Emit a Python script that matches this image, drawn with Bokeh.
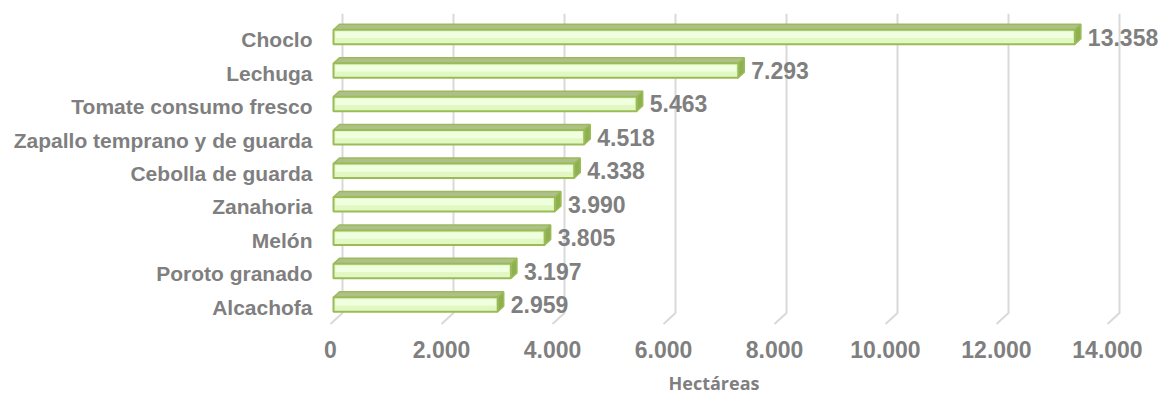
from bokeh.plotting import figure
from bokeh.models import Range1d, FixedTicker, ColumnDataSource, Title
from bokeh.core.properties import value
from bokeh.embed import file_html
from bokeh.resources import INLINE

# ---- data ----
categories = ["Alcachofa", "Poroto granado", "Melón", "Zanahoria", "Cebolla de guarda",
              "Zapallo temprano y de guarda", "Tomate consumo fresco", "Lechuga", "Choclo"]
hectares = [2959, 3197, 3805, 3990, 4338, 4518, 5463, 7293, 13358]
value_labels = ["2.959", "3.197", "3.805", "3.990", "4.338", "4.518", "5.463", "7.293", "13.358"]
x_ticks = [0, 2000, 4000, 6000, 8000, 10000, 12000, 14000]
x_tick_labels = ["0", "2.000", "4.000", "6.000", "8.000", "10.000", "12.000", "14.000"]
axis_title = "Hectáreas"

# ---- layout constants (pixels) ----
W, H = 1164, 409
BL, BR, BT, BB = 326, 0, 13, 82
SX = 0.0555       # px per hectare
SY = 33.44        # px per category
ZERO_OFF = 4      # px from frame left to x=0
CAT_TOP_OFF = 26.25  # px from frame top to top category centre
PX = 1.0 / SX
PY = 1.0 / SY

frame_w = W - BL - BR
frame_h = H - BT - BB
x0 = -ZERO_OFF * PX
x1 = x0 + frame_w * PX
ytop = (len(categories) - 1) + CAT_TOP_OFF * PY
ybot = ytop - frame_h * PY

p = figure(width=W, height=H, output_backend="svg", toolbar_location=None,
           x_range=Range1d(x0, x1), y_range=Range1d(ybot, ytop),
           min_border_left=BL, min_border_right=BR, min_border_top=BT, min_border_bottom=BB)
p.outline_line_color = None
p.xgrid.visible = False
p.ygrid.visible = False
p.background_fill_color = "white"

# ---- 3D gridlines (back wall + floor) ----
BACK_DX, BACK_DY = 12, 11
gx, gy = [], []
for t in x_ticks:
    gx.append([t + BACK_DX * PX, t + BACK_DX * PX, t])
    gy.append([ytop, -0.5 + BACK_DY * PY, -0.5])
p.multi_line(gx, gy, line_color="#d9d9d9", line_width=2)

# ---- 3D bars ----
F_DX, F_DY = 3, 2.75    # front face depth shift
B_DX, B_DY = 9, 8.25    # back face depth shift
HALF = 7.25             # half height of front face (px)
ys = list(range(len(categories)))

fl, fr, fb, ft = [], [], [], []
top_x, top_y, side_x, side_y = [], [], [], []
for k, v in zip(ys, hectares):
    c = k + F_DY * PY
    l = 0 + F_DX * PX
    r = v + F_DX * PX
    b = c - HALF * PY
    t = c + HALF * PY
    fl.append(l); fr.append(r); fb.append(b); ft.append(t)
    ddx = (B_DX - F_DX) * PX
    ddy = (B_DY - F_DY) * PY
    top_x.append([l, r, r + ddx, l + ddx])
    top_y.append([t, t, t + ddy, t + ddy])
    side_x.append([r, r + ddx, r + ddx, r])
    side_y.append([b, b + ddy, t + ddy, t])

p.patches(top_x, top_y, fill_color="#aebf8a", line_color="#9bbb59", line_width=1.5)
p.patches(side_x, side_y, fill_color="#8fb04e", line_color="#9bbb59", line_width=1.5)
p.quad(left=fl, right=fr, bottom=fb, top=ft, fill_color="#e2f8c2",
       line_color="#9bbb59", line_width=2)
# lighter highlight strip on front face
p.quad(left=[l + 2 * PX for l in fl], right=[r - 2 * PX for r in fr],
       bottom=[(b + t) / 2 - 1 * PY for b, t in zip(fb, ft)], top=[t - 2 * PY for t in ft],
       fill_color="#f0ffe0", line_color=None)

# ---- value labels ----
src = ColumnDataSource(dict(
    x=[v + B_DX * PX + 7 * PX for v in hectares],
    y=[k + F_DY * PY for k in ys],
    txt=value_labels))
p.text(x="x", y="y", text="txt", source=src, text_font=value("Liberation Sans"),
       text_font_style="bold", text_font_size="23px", text_color="#7f7f7f",
       text_baseline="middle", text_align="left")

# ---- axes ----
p.xaxis.ticker = FixedTicker(ticks=x_ticks)
p.xaxis.major_label_overrides = {t: s for t, s in zip(x_ticks, x_tick_labels)}
p.xaxis.axis_line_color = None
p.xaxis.major_tick_line_color = None
p.xaxis.minor_tick_line_color = None
p.xaxis.major_tick_out = 0
p.xaxis.major_label_standoff = 13
p.xaxis.major_label_text_font = "Liberation Sans"
p.xaxis.major_label_text_font_style = "bold"
p.xaxis.major_label_text_font_size = "23px"
p.xaxis.major_label_text_color = "#7f7f7f"

# axis title below the axis
p.add_layout(Title(text=axis_title, align="left", offset=342, standoff=16,
                   text_font="Open Sans", text_font_style="bold", text_font_size="18px",
                   text_color="#7f7f7f"), "below")

p.yaxis.ticker = FixedTicker(ticks=ys)
p.yaxis.major_label_overrides = {k: c for k, c in zip(ys, categories)}
p.yaxis.axis_line_color = None
p.yaxis.major_tick_line_color = None
p.yaxis.minor_tick_line_color = None
p.yaxis.major_tick_out = 0
p.yaxis.major_label_standoff = 14
p.yaxis.major_label_text_font = "Liberation Sans"
p.yaxis.major_label_text_font_style = "bold"
p.yaxis.major_label_text_font_size = "21px"
p.yaxis.major_label_text_color = "#7f7f7f"

open("out.html", "w").write(file_html(p, INLINE))
